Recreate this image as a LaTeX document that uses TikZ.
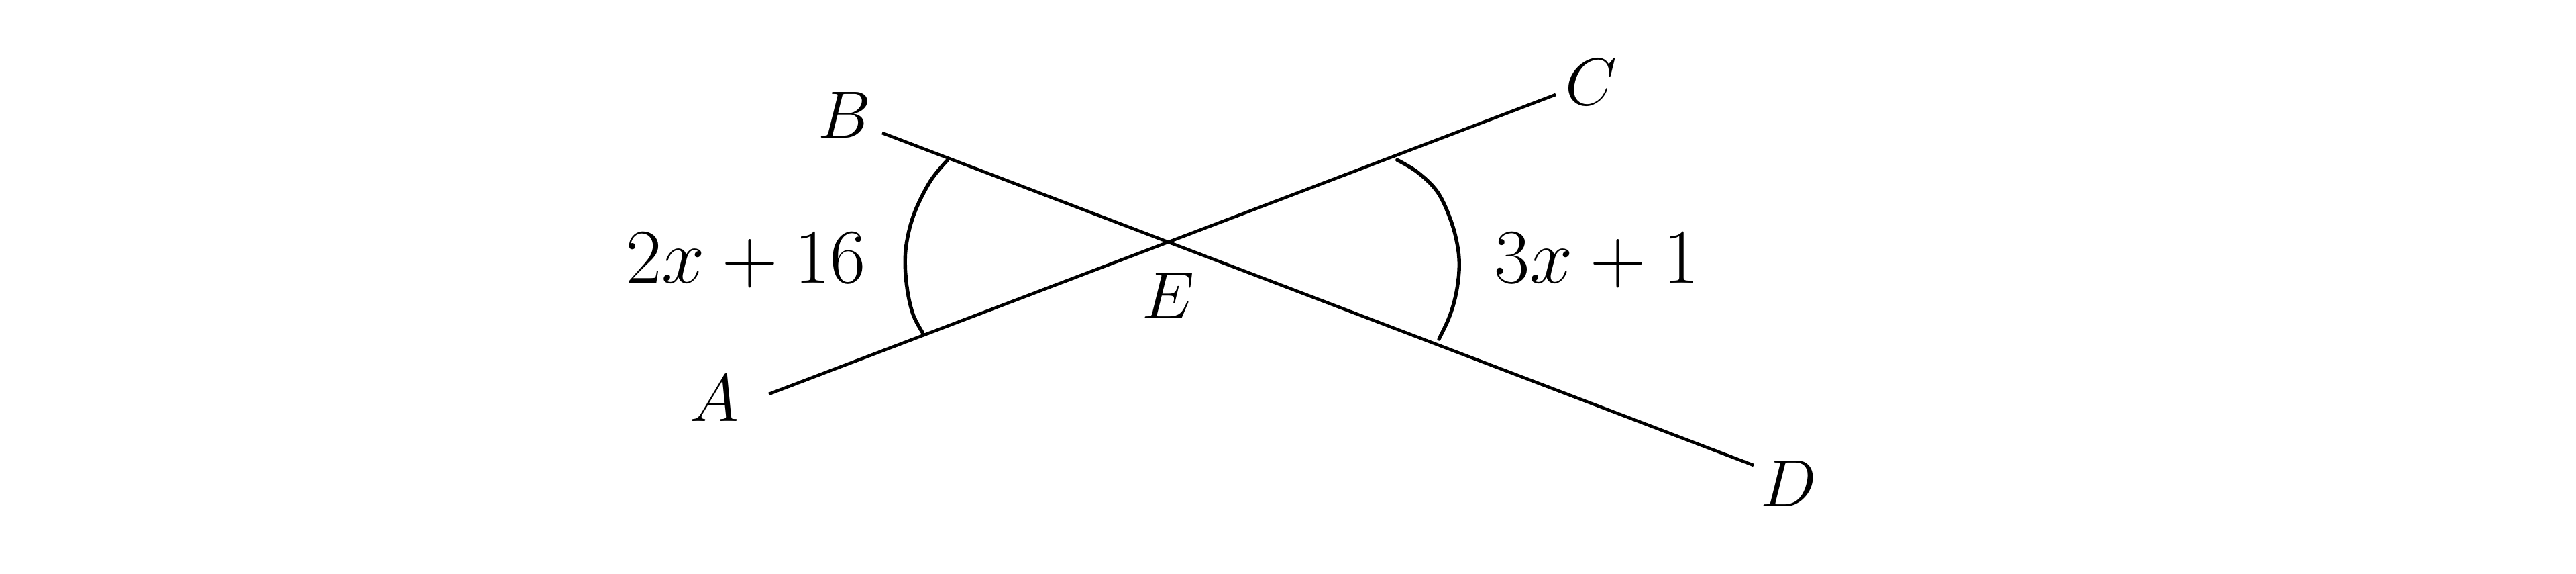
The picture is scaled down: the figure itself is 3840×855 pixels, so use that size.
\documentclass[tikz,border=0pt]{standalone}
\usepackage{graphicx}
\begin{document}
\begin{tikzpicture}[x=0.25pt,y=-0.25pt,
  seg/.style={line width=1.15pt},
  anglemark/.style={line width=1.35pt,line cap=round},
  lbl/.style={inner sep=0pt,anchor=base,font=\fontsize{24.88}{28}\selectfont},
  expr/.style={inner sep=0pt,anchor=base,font=\fontsize{24.88}{28}\selectfont}]
\useasboundingbox (0,0) rectangle (3840,855);
% end points
\coordinate (pA) at (1146,587);
\coordinate (pC) at (2319,141);
\coordinate (pB) at (1315,198);
\coordinate (pD) at (2614,693);
\coordinate (pE) at (1740,360);
% lines
\draw[seg] (pA) -- (pC);
\draw[seg] (pB) -- (pD);
% angle marks
\draw[anglemark] plot[smooth,tension=0.6] coordinates {(1411.7,239.3) (1386.7,270) (1363.3,316.7) (1351.7,360) (1349.3,396.7) (1353.3,436.7) (1361.7,470) (1375,495)};
\draw[anglemark] plot[smooth,tension=0.6] coordinates {(2082.7,238.3) (2113.3,256.7) (2143.3,286.7) (2163.3,330) (2173.3,370) (2175,403.3) (2170,440) (2160,473.3) (2145,505)};
% labels
\node[lbl] (lA) at (1065,627) {$A$};
\node[lbl] (lB) at (1259,206) {$B$};
\node[lbl] (lC) at (2372,157) {$C$};
\node[lbl] (lD) at (2666,754) {$D$};
\node[lbl] (lE) at (1741,474) {$E$};
\node[expr] (ang1) at (1112,421) {\scalebox{1.16}{$2x+16$}};
\node[expr] (ang2) at (2380,421) {\scalebox{1.16}{$3x+1$}};
\end{tikzpicture}
\end{document}
